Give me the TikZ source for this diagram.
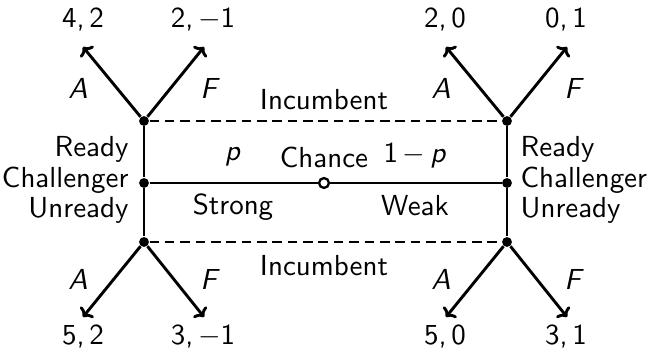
\documentclass[tikz,border=0pt]{standalone}
\usetikzlibrary{arrows.meta}
\newcommand{\mvar}[1]{\textit{#1}}
\newcommand{\mminus}{$-$}
\begin{document}
\begin{tikzpicture}[x=0.345pt,y=-0.345pt,font=\sffamily,
  dec/.style={circle,fill,inner sep=0pt,minimum size=3.4pt},
  chancenode/.style={circle,draw,fill=white,inner sep=0pt,minimum size=3.4pt,line width=0.8pt},
  branch/.style={line width=1pt},
  infoset/.style={line width=1pt,dash pattern=on 3.3pt off 2pt},
  move/.style={line width=1pt,-{To[length=2.6pt,width=6pt]}},
  lbl/.style={inner sep=0pt}]
\useasboundingbox (0,0) rectangle (647,354);
% decision nodes
\node[dec] (TL) at (144,121) {};
\node[dec] (ML) at (144,183) {};
\node[dec] (BL) at (144,242) {};
\node[dec] (TR) at (507,121) {};
\node[dec] (MR) at (507,183) {};
\node[dec] (BR) at (507,242) {};
% arrow ends
\coordinate (tla) at (83,47);
\coordinate (tlf) at (204,47);
\coordinate (tra) at (446,47);
\coordinate (trf) at (567,47);
\coordinate (bla) at (83,317);
\coordinate (blf) at (204,317);
\coordinate (bra) at (446,317);
\coordinate (brf) at (567,317);
% branches
\draw[branch] (TL) -- (ML) -- (BL);
\draw[branch] (TR) -- (MR) -- (BR);
\draw[branch] (ML) -- (MR);
\draw[infoset] (TL) -- (TR);
\draw[infoset] (BL) -- (BR);
\node[chancenode] (C) at (324,183) {};
% moves
\draw[move] (TL) -- (tla);
\draw[move] (TL) -- (tlf);
\draw[move] (TR) -- (tra);
\draw[move] (TR) -- (trf);
\draw[move] (BL) -- (bla);
\draw[move] (BL) -- (blf);
\draw[move] (BR) -- (bra);
\draw[move] (BR) -- (brf);
% payoffs
\node (p1) at (83,19) {4,\,2};
\node (p2) at (203,19) {2,\,\mminus1};
\node (p3) at (445,19) {2,\,0};
\node (p4) at (566,19) {0,\,1};
\node (p5) at (83,336) {5,\,2};
\node (p6) at (203,336) {3,\,\mminus1};
\node (p7) at (445,336) {5,\,0};
\node (p8) at (566,336) {3,\,1};
% action labels
\node (a1) at (78,88) {\mvar{A}};
\node (f1) at (210,88) {\mvar{F}};
\node (a2) at (441,88) {\mvar{A}};
\node (f2) at (574,88) {\mvar{F}};
\node (a3) at (78,279) {\mvar{A}};
\node (f3) at (210,279) {\mvar{F}};
\node (a4) at (441,279) {\mvar{A}};
\node (f4) at (574,279) {\mvar{F}};
% player labels
\node (inc1) at (324,100) {Incumbent};
\node (inc2) at (324,266) {Incumbent};
\node[lbl,anchor=base east] (rl) at (129,157) {Ready};
\node[lbl,anchor=base east] (cl) at (129,188) {Challenger};
\node[lbl,anchor=base east] (ul) at (129,218) {Unready};
\node[lbl,anchor=base west] (rr) at (520,157) {Ready};
\node[lbl,anchor=base west] (cr) at (520,188) {Challenger};
\node[lbl,anchor=base west] (ur) at (520,218) {Unready};
% chance labels
\node (ch) at (324,157) {Chance};
\node (pl) at (233,157) {\mvar{p}};
\node (ql) at (415,155) {1\,\mminus\,\mvar{p}};
\node (st) at (233,207) {Strong};
\node (wk) at (415,206) {Weak};
\end{tikzpicture}
\end{document}
